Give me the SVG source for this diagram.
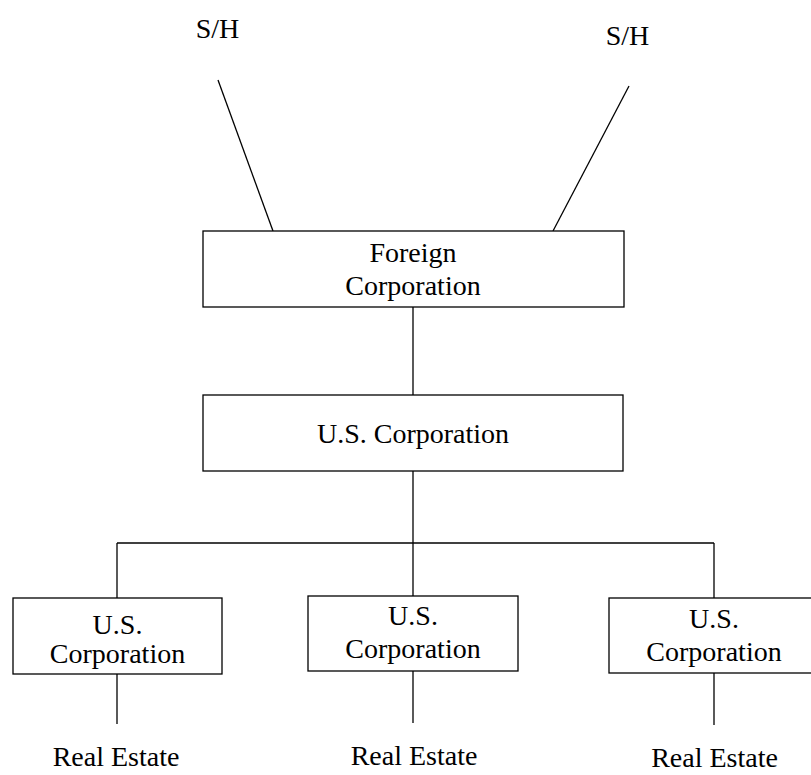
<svg xmlns="http://www.w3.org/2000/svg" width="811" height="775" viewBox="0 0 811 775">
<style>
.box{fill:#fff;stroke:#000;stroke-width:1.3}
.ln{stroke:#000;stroke-width:1.3;fill:none}
text{font-family:"Liberation Serif","Times New Roman",serif;font-size:28px;fill:#000;text-anchor:middle}
</style>
<rect width="811" height="775" fill="#fff"/>
<g id="connectors">
<line class="ln" x1="218" y1="80" x2="273" y2="231"/>
<line class="ln" x1="629" y1="86" x2="553" y2="231"/>
<line class="ln" x1="413" y1="307" x2="413" y2="395"/>
<line class="ln" x1="413" y1="471" x2="413" y2="596"/>
<line class="ln" x1="117" y1="543" x2="714" y2="543"/>
<line class="ln" x1="117" y1="543" x2="117" y2="598"/>
<line class="ln" x1="714" y1="543" x2="714" y2="598"/>
<line class="ln" x1="117" y1="674" x2="117" y2="724"/>
<line class="ln" x1="413" y1="671" x2="413" y2="723"/>
<line class="ln" x1="714" y1="673" x2="714" y2="725"/>
</g>
<g id="sh-left"><text x="217.5" y="38">S/H</text></g>
<g id="sh-right"><text x="627.5" y="45">S/H</text></g>
<g id="foreign-corp">
<rect class="box" x="203" y="231" width="421" height="76"/>
<text x="413" y="262">Foreign</text>
<text x="413" y="295">Corporation</text>
</g>
<g id="us-corp">
<rect class="box" x="203" y="395" width="420" height="76"/>
<text x="413" y="443">U.S. Corporation</text>
</g>
<g id="us-corp-left">
<rect class="box" x="13" y="598" width="209" height="76"/>
<text x="117.5" y="634">U.S.</text>
<text x="117.5" y="663">Corporation</text>
</g>
<g id="us-corp-mid">
<rect class="box" x="308" y="596" width="210" height="75"/>
<text x="413" y="625">U.S.</text>
<text x="413" y="658">Corporation</text>
</g>
<g id="us-corp-right">
<rect class="box" x="609" y="598" width="210" height="75"/>
<text x="714" y="628">U.S.</text>
<text x="714" y="661">Corporation</text>
</g>
<g id="re-left"><text x="116" y="766">Real Estate</text></g>
<g id="re-mid"><text x="414" y="765">Real Estate</text></g>
<g id="re-right"><text x="714.5" y="767">Real Estate</text></g>
</svg>
